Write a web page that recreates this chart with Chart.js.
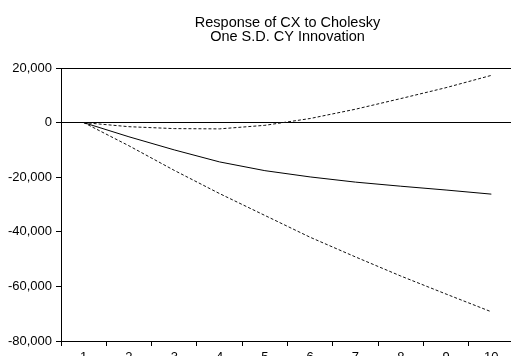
<!DOCTYPE html>
<html>
<head>
<meta charset="utf-8">
<style>
  html, body { margin: 0; padding: 0; background: #fff; overflow: hidden; }
  #wrap { width: 511px; height: 356px; overflow: hidden; }
  canvas { display: block; }
</style>
<script src="https://cdn.jsdelivr.net/npm/chart.js@4.4.0/dist/chart.umd.min.js"></script>
</head>
<body>
<div id="wrap"><canvas id="plot1" width="514" height="365"></canvas></div>
<script>
// periods
const periods = ['1', '2', '3', '4', '5', '6', '7', '8', '9', '10'];
// impulse response and +/- 2 S.E. bands
const response = [0, -5200, -10000, -14400, -17600, -19900, -21800, -23300, -24700, -26200];
const upperBand = [0, -1500, -2200, -2300, -1000, 1500, 4900, 8800, 12800, 17300];
const lowerBand = [0, -8500, -17500, -26000, -34000, -42000, -49200, -56200, -62800, -69300];
const titleLines = ['Response of CX to Cholesky', 'One S.D. CY Innovation'];

const FONT = "'Liberation Sans', Arial, sans-serif";

// title centred over the plot area, like the original
const plotTitle = {
    id: 'plotTitle',
    afterDraw(chart) {
        const { ctx, chartArea } = chart;
        const cx = (chartArea.left + chartArea.right) / 2;
        ctx.save();
        ctx.fillStyle = '#000';
        ctx.font = '14.5px ' + FONT;
        ctx.textAlign = 'center';
        ctx.textBaseline = 'middle';
        titleLines.forEach((t, i) => ctx.fillText(t, cx, 22.5 + i * 14));
        ctx.restore();
    }
};

window.addEventListener("DOMContentLoaded", () => {
    const ctx1 = document.getElementById('plot1')?.getContext('2d');
    if (ctx1) {
    new Chart(ctx1, {
        type: 'line',
        data: {
        labels: periods,
        datasets: [{
            data: response,
            borderColor: '#000',
            borderWidth: 1,
            pointRadius: 0,
            tension: 0
        }, {
            data: upperBand,
            borderColor: '#111',
            borderWidth: 1,
            borderDash: [3, 2],
            pointRadius: 0,
            tension: 0
        }, {
            data: lowerBand,
            borderColor: '#111',
            borderWidth: 1,
            borderDash: [3, 2],
            pointRadius: 0,
            tension: 0
        }]
        },
        options: {
        responsive: false,
        animation: false,
        layout: { padding: { top: 68, right: 0, bottom: 0, left: 0 } },
        plugins: {
            legend: { display: false },
            title: { display: false },
            tooltip: { enabled: false }
        },
        scales: {
            x: {
                offset: true,
                afterFit: (s) => { s.height = 24; },
                border: { color: '#000', width: 1 },
                grid: { offset: true, drawOnChartArea: false, drawTicks: true, tickLength: 5, tickColor: '#000' },
                ticks: { color: '#000', padding: 4, font: { family: FONT, size: 13 }, maxRotation: 0 }
            },
            y: {
                min: -80000,
                max: 20000,
                afterFit: (s) => { s.width = 61; },
                border: { color: '#000', width: 1 },
                grid: {
                    color: (c) => (c.tick && (c.tick.value === 0 || c.tick.value === 20000)) ? '#000' : 'rgba(0,0,0,0)',
                    tickColor: '#000',
                    tickLength: 5,
                    lineWidth: 1
                },
                ticks: {
                    stepSize: 20000,
                    color: '#000',
                    padding: 4,
                    font: { family: FONT, size: 13 },
                    callback: (v) => v.toLocaleString('en-US')
                }
            }
        }
        },
        plugins: [plotTitle]
    });
    }
});
</script>
</body>
</html>
